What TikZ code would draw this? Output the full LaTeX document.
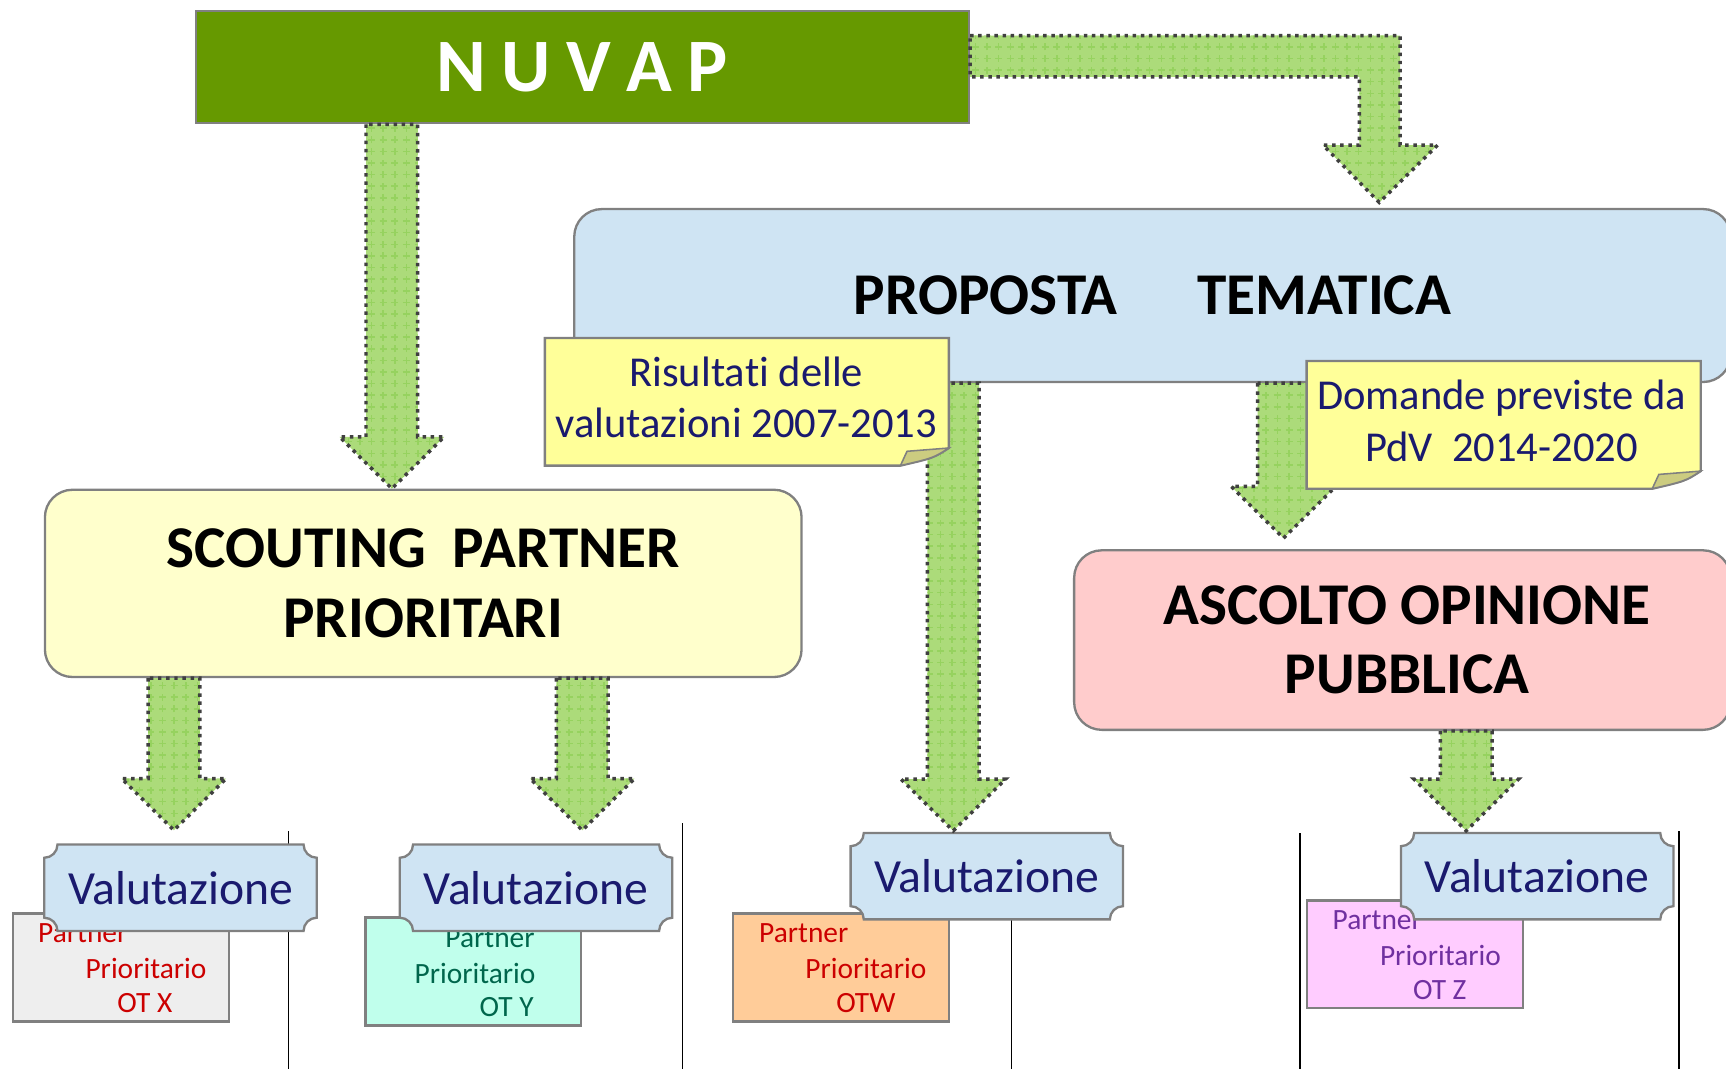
\documentclass[tikz,border=0pt]{standalone}
\usepackage{fontspec}
\setmainfont{Carlito}[Ligatures=NoCommon]
\usetikzlibrary{calc,patterns}

\definecolor{nuvapgreen}{RGB}{102,153,0}
\definecolor{skyfill}{RGB}{207,228,243}
\definecolor{creamfill}{RGB}{255,255,204}
\definecolor{rosefill}{RGB}{255,204,204}
\definecolor{notefill}{RGB}{255,255,153}
\definecolor{foldfill}{RGB}{204,204,128}
\definecolor{arrowgreen}{RGB}{172,219,122}
\definecolor{arrowgrid}{RGB}{150,210,95}
\definecolor{navytext}{RGB}{26,26,110}
\definecolor{framegray}{RGB}{128,128,128}
\definecolor{greyfill}{RGB}{238,238,238}
\definecolor{mintfill}{RGB}{192,255,236}
\definecolor{orangefill}{RGB}{255,204,153}
\definecolor{lilacfill}{RGB}{255,204,255}
\definecolor{redtext}{RGB}{204,0,0}
\definecolor{greentext}{RGB}{0,102,76}
\definecolor{purpletext}{RGB}{112,48,160}

\tikzset{
  box/.style={draw=framegray, line width=0.6pt, rounded corners=0.25cm, inner sep=0pt,
    align=center, font=\fontsize{15.3}{17.9}\selectfont\bfseries},
  fatarrow/.style={draw=black!75, line width=0.9pt, dash pattern=on 0.9pt off 1.2pt,
    preaction={fill=arrowgreen}, pattern=grid, pattern color=arrowgrid},
  notepaper/.style={draw=framegray, line width=0.6pt, fill=notefill},
  notefold/.style={draw=framegray, line width=0.4pt, fill=foldfill},
  notetext/.style={text=navytext, align=center, font=\fontsize{11}{13.4}\selectfont},
  valsize/.style={minimum width=2.46cm, minimum height=0.77cm, inner sep=0pt},
  plaque/.style={draw=framegray, line width=0.6pt, fill=skyfill},
  valtext/.style={text=navytext, font=\fontsize{12.3}{14}\selectfont},
  partnerbox/.style={draw=framegray, line width=0.6pt, minimum width=1.96cm, minimum height=0.98cm},
  partnertext/.style={anchor=west, inner sep=0pt, font=\fontsize{7.6}{9}\selectfont},
  divider/.style={line width=0.45pt, black}
}

% fat block arrow: start of shaft, tip
\newcommand{\fatarrow}[2]{%
  \draw[fatarrow] ($(#1)+(-23.5,0)$) -- ($(#2)+(-23.5,-47)$) -- ($(#2)+(-47.5,-47)$) -- (#2)
    -- ($(#2)+(47.5,-47)$) -- ($(#2)+(23.5,-47)$) -- ($(#1)+(23.5,0)$) -- cycle;}

% yellow sticky note: left, top, right, bottom
\newcommand{\notepaper}[4]{%
  \draw[notepaper] (#1,#2) -- (#3,#2) -- (#3,{#4-16}) .. controls ({#3-14},{#4-7}) .. ({#3-44},#4) -- (#1,#4) -- cycle;
  \draw[notefold] ({#3-44},#4) -- ({#3-38},{#4-13}) -- (#3,{#4-16}) .. controls ({#3-14},{#4-7}) .. ({#3-44},#4) -- cycle;}

% evaluation plaque with hollow corners
\newcommand{\valbox}[2]{%
  \path (#2) node[valsize] (#1) {};
  \draw[plaque] ($(#1.north west)+(12,0)$) -- ($(#1.north east)+(-12,0)$)
    .. controls +(0,6.6) and +(-6.6,0) .. ($(#1.north east)+(0,12)$)
    -- ($(#1.south east)+(0,-12)$)
    .. controls +(-6.6,0) and +(0,-6.6) .. ($(#1.south east)+(-12,0)$)
    -- ($(#1.south west)+(12,0)$)
    .. controls +(0,-6.6) and +(6.6,0) .. ($(#1.south west)+(0,-12)$)
    -- ($(#1.north west)+(0,12)$)
    .. controls +(6.6,0) and +(0,6.6) .. ($(#1.north west)+(12,0)$) -- cycle;
  \node[valtext] at (#1) {Valutazione};}

\begin{document}
\begin{tikzpicture}[x=0.01cm, y=-0.01cm]
    \useasboundingbox (0,0) rectangle (1568,971);

    % dividers
    \foreach \x/\y in {262/755, 620/748, 919/757, 1181/757, 1525/755}
        \draw[divider] (\x,\y) -- (\x,971);

    % partner cards
    \node[partnerbox, fill=greyfill] (pbx) at (110,879) {};
    \node[partnertext, text=redtext] (pbx1) at (34,848) {Partner};
    \node[partnertext, text=redtext] (pbx2) at (77,880) {Prioritario};
    \node[partnertext, text=redtext] (pbx3) at (106,911) {OT X};

    \node[partnerbox, fill=mintfill] (pby) at (430,882.5) {};
    \node[partnertext, text=greentext] (pby1) at (404,852) {Partner};
    \node[partnertext, text=greentext] (pby2) at (376,884) {Prioritario};
    \node[partnertext, text=greentext] (pby3) at (435,915) {OT Y};

    \node[partnerbox, fill=orangefill] (pbw) at (764,879) {};
    \node[partnertext, text=redtext] (pbw1) at (689,848) {Partner};
    \node[partnertext, text=redtext] (pbw2) at (731,880) {Prioritario};
    \node[partnertext, text=redtext] (pbw3) at (759,911) {OTW};

    \node[partnerbox, fill=lilacfill] (pbz) at (1285.5,867) {};
    \node[partnertext, text=purpletext] (pbz1) at (1210,836) {Partner};
    \node[partnertext, text=purpletext] (pbz2) at (1253,868) {Prioritario};
    \node[partnertext, text=purpletext] (pbz3) at (1283,899) {OT Z};

    % evaluations
    \valbox{val1}{164,806.5}
    \valbox{val2}{487,806.5}
    \valbox{val3}{896.5,796}
    \valbox{val4}{1396.5,796}

    % main boxes
    \node[draw=framegray, line width=0.6pt, fill=nuvapgreen, minimum width=7.02cm, minimum height=1.02cm,
        text=white, font=\fontsize{19.5}{22}\selectfont\bfseries] (nuvap) at (529,61)
        {N\hspace{4pt}U\hspace{4pt}V\hspace{4pt}A\hspace{4pt}P};
    \node[box, fill=skyfill, minimum width=10.5cm, minimum height=1.57cm] (prop) at (1047,268.5)
        {PROPOSTA\hspace{1.35em}TEMATICA};
    \node[box, fill=creamfill, minimum width=6.87cm, minimum height=1.7cm] (scout) at (384.5,530)
        {SCOUTING\ \ PARTNER\\PRIORITARI};
    \node[box, fill=rosefill, minimum width=5.96cm, minimum height=1.63cm] (asc) at (1274,581.5)
        {\hspace{2.5pt}ASCOLTO OPINIONE\\\hspace{2.5pt}PUBBLICA};

    % arrow tips
    \coordinate (tipscout) at (356,0 |- scout.north);
    \coordinate (tipprop) at ($(1253,0 |- prop.north)+(0,-5)$);
    \coordinate (tipx) at ($(158,0 |- val1.north)+(0,-13)$);
    \coordinate (tipy) at ($(529,0 |- val2.north)+(0,-13)$);
    \coordinate (tipw) at ($(866,0 |- val3.north)+(0,-2)$);
    \coordinate (tipasc) at ($(1166,0 |- asc.north)+(0,-10)$);
    \coordinate (tipz) at ($(1332,0 |- val4.north)+(0,-2)$);

    % arrows
    \fatarrow{356,0 |- nuvap.south}{tipscout}
    \draw[fatarrow] ($(nuvap.north east)+(0,23.5)$) -- ($(tipprop)+(19,-151.5)$) -- ($(tipprop)+(19,-52)$)
        -- ($(tipprop)+(53,-52)$) -- (tipprop) -- ($(tipprop)+(-51,-52)$) -- ($(tipprop)+(-18,-52)$)
        -- ($(tipprop)+(-18,-114)$) -- ($(nuvap.north east)+(0,61)$) -- cycle;
    \fatarrow{158,0 |- scout.south}{tipx}
    \fatarrow{529,0 |- scout.south}{tipy}
    \fatarrow{866,0 |- prop.south}{tipw}
    \fatarrow{1166,0 |- prop.south}{tipasc}
    \fatarrow{1332,0 |- asc.south}{tipz}

    % notes
    \notepaper{495}{307}{862}{423}
    \node[notetext] (res) at (678,361) {Risulta\kern0pt ti delle\\valutazioni 2007-2013};
    \notepaper{1187}{328}{1545}{444}
    \node[notetext] (dom) at (1364,382) {Domande previste da\\PdV\ \ 2014-2020};
\end{tikzpicture}
\end{document}
